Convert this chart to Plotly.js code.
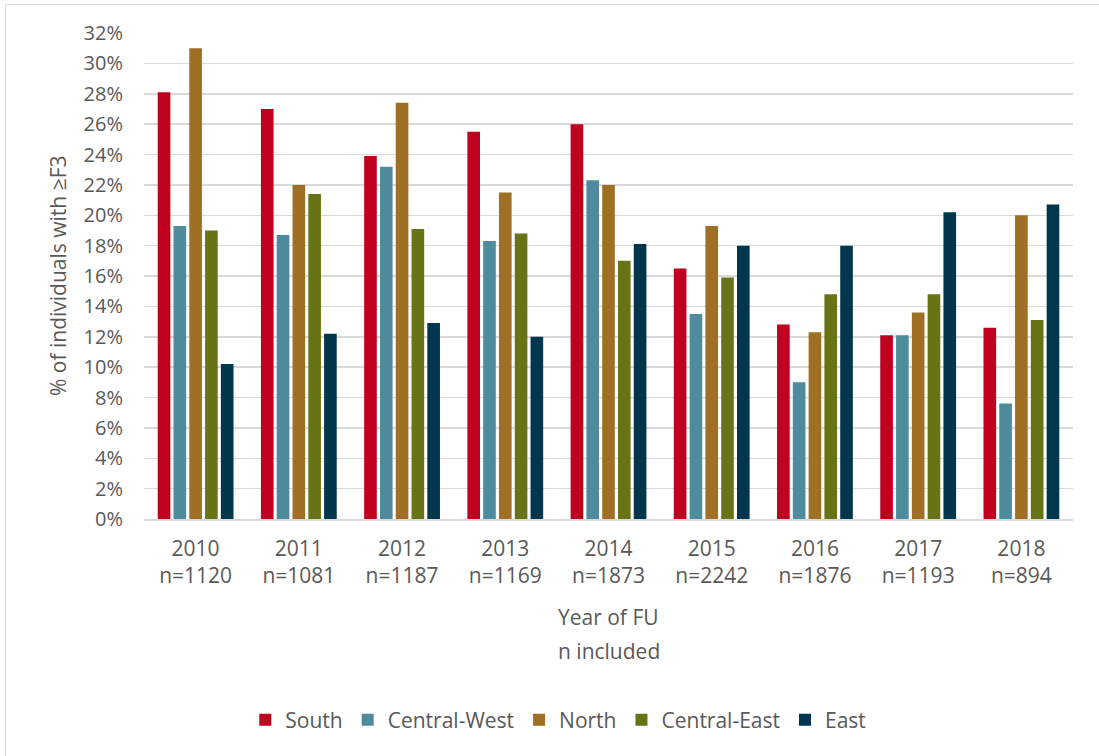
<!DOCTYPE html>
<html>
<head>
<meta charset="utf-8">
<script src="https://cdn.plot.ly/plotly-3.0.1.min.js"></script>
<style>
  html, body { margin: 0; padding: 0; background: #fff; }
  #wrap { position: relative; width: 1099px; height: 756px; overflow: hidden; }
  #wrap::before {
    content: ""; position: absolute; left: 5px; top: 4px; width: 1200px; height: 900px;
    border-left: 1.5px solid #d9d9d9; border-top: 1.5px solid #d9d9d9; pointer-events: none; z-index: 5;
  }
  #chart { width: 1099px; height: 756px; }
</style>
</head>
<body>
<div id="wrap"><div id="chart"></div></div>
<script>
// Follow-up years and number of individuals included per year
const years = ['2010', '2011', '2012', '2013', '2014', '2015', '2016', '2017', '2018'];
const nIncluded = [1120, 1081, 1187, 1169, 1873, 2242, 1876, 1193, 894];

// Share of individuals with >=F3 (%), by region
const south        = [28.1, 27.0, 23.9, 25.5, 26.0, 16.5, 12.8, 12.1, 12.6];
const centralWest  = [19.3, 18.7, 23.2, 18.3, 22.3, 13.5, 9.0, 12.1, 7.6];
const north        = [31.0, 22.0, 27.4, 21.5, 22.0, 19.3, 12.3, 13.6, 20.0];
const centralEast  = [19.0, 21.4, 19.1, 18.8, 17.0, 15.9, 14.8, 14.8, 13.1];
const east         = [10.2, 12.2, 12.9, 12.0, 18.1, 18.0, 18.0, 20.2, 20.7];

const seriesNames = ['South', 'Central-West', 'North', 'Central-East', 'East'];
const seriesValues = [south, centralWest, north, centralEast, east];
const seriesColors = ['#C0001F', '#4E8B9C', '#9F6F23', '#677314', '#02364C'];

const categoryLabels = years.map((y, i) => y + '<br>n=' + nIncluded[i]);

const textColor = '#595959';
const fontFamily = '"Open Sans", "Liberation Sans", sans-serif';

const traces = seriesNames.map((name, i) => ({
  type: 'bar',
  name: name,
  x: categoryLabels,
  y: seriesValues[i],
  marker: { color: seriesColors[i], line: { width: 0 } },
  hoverinfo: 'x+y+name'
}));

const layout = {
  width: 1099,
  height: 756,
  margin: { l: 144, r: 26, t: 33, b: 237 },
  paper_bgcolor: '#ffffff',
  plot_bgcolor: '#ffffff',
  barmode: 'group',
  bargap: 0.235,
  bargroupgap: 0.2,
  font: { family: fontFamily, color: textColor, size: 20 },
  xaxis: {
    type: 'category',
    showgrid: false,
    showline: true,
    linecolor: '#d9d9d9',
    linewidth: 1.5,
    ticks: '',
    tickfont: { size: 21, color: textColor },
    ticklabelstandoff: 10,
    fixedrange: true
  },
  yaxis: {
    range: [0, 32],
    dtick: 2,
    ticksuffix: '%',
    showgrid: true,
    gridcolor: '#d9d9d9',
    gridwidth: 1.5,
    zeroline: false,
    showline: false,
    ticks: '',
    tickfont: { size: 20, color: textColor },
    ticklabelstandoff: 20,
    fixedrange: true
  },
  showlegend: true,
  legend: {
    orientation: 'h',
    xref: 'container',
    yref: 'container',
    x: 0.508,
    xanchor: 'center',
    y: 1 - 720 / 756,
    yanchor: 'middle',
    font: { size: 21, color: textColor },
    itemwidth: 30,
    traceorder: 'normal'
  },
  annotations: [
    {
      text: '% of individuals with ≥F3',
      xref: 'paper', yref: 'paper',
      x: (58 - 144) / 929, y: 0.5,
      xanchor: 'center', yanchor: 'middle',
      textangle: -90,
      showarrow: false,
      font: { size: 21, color: textColor }
    },
    {
      text: 'Year of FU',
      xref: 'paper', yref: 'paper',
      x: 0.5, y: (519 - 617) / 486,
      xanchor: 'center', yanchor: 'middle',
      showarrow: false,
      font: { size: 21, color: textColor }
    },
    {
      text: 'n included',
      xref: 'paper', yref: 'paper',
      x: 0.5, y: (519 - 651) / 486,
      xanchor: 'center', yanchor: 'middle',
      showarrow: false,
      font: { size: 21, color: textColor }
    }
  ]
};

Plotly.newPlot('chart', traces, layout, { displayModeBar: false, staticPlot: true });
</script>
</body>
</html>
